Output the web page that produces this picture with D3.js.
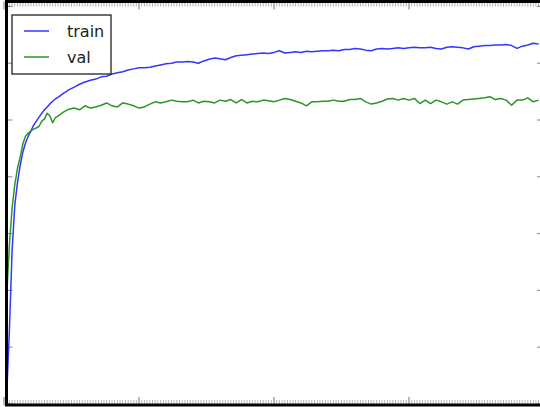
<!DOCTYPE html>
<html>
<head>
<meta charset="utf-8">
<script src="https://cdn.jsdelivr.net/npm/d3@7"></script>
<style>
  body { margin: 0; background: #fff; }
  svg { display: block; font-family: "DejaVu Sans", sans-serif; }
</style>
</head>
<body>
<div id="chart"></div>
<script>
// epochs (dense at the start, every 2 later on)
var epochs = [1, 2, 3, 4, 5, 6, 7, 8, 9, 10, 11, 12, 13, 14, 15, 16, 17, 18, 19, 20,
  22, 24, 26, 28, 30, 32, 34, 36, 38, 40, 42, 44, 46, 48, 50, 52, 54, 56, 58, 60, 62, 64,
  66, 68, 70, 72, 74, 76, 78, 80, 82, 84, 86, 88, 90, 92, 94, 96, 98, 100,
  102, 104, 106, 108, 110, 112, 114, 116, 118, 120, 122, 124, 126, 128, 130, 132, 134, 136, 138, 140,
  142, 144, 146, 148, 150, 152, 154, 156, 158, 160, 162, 164, 166, 168, 170, 172, 174, 176, 178, 180,
  182, 184, 186, 188, 190, 192, 194, 196, 198];

var train = [0.016, 0.13, 0.27, 0.35, 0.39, 0.42, 0.444, 0.46, 0.472, 0.481, 0.491, 0.498, 0.505, 0.512, 0.518, 0.523, 0.528, 0.533, 0.537, 0.540,
  0.547, 0.553, 0.558, 0.563, 0.567, 0.570, 0.572, 0.576, 0.577, 0.581, 0.583, 0.585, 0.588, 0.590, 0.592, 0.592, 0.593, 0.595, 0.597, 0.599, 0.600, 0.602,
  0.602, 0.603, 0.602, 0.600, 0.604, 0.607, 0.609, 0.608, 0.606, 0.610, 0.613, 0.614, 0.615, 0.616, 0.617, 0.618, 0.617, 0.619,
  0.622, 0.618, 0.619, 0.620, 0.619, 0.621, 0.620, 0.621, 0.622, 0.622, 0.623, 0.622, 0.624, 0.624, 0.626, 0.625, 0.623, 0.622, 0.625, 0.626,
  0.625, 0.626, 0.627, 0.626, 0.627, 0.628, 0.627, 0.627, 0.628, 0.626, 0.625, 0.628, 0.629, 0.628, 0.627, 0.625, 0.629, 0.630, 0.631, 0.631,
  0.632, 0.632, 0.633, 0.631, 0.626, 0.630, 0.632, 0.635, 0.634];

var val = [0.190, 0.280, 0.345, 0.386, 0.415, 0.435, 0.458, 0.472, 0.477, 0.481, 0.484, 0.486, 0.489, 0.498, 0.502, 0.512, 0.507, 0.495, 0.504, 0.507,
  0.514, 0.519, 0.521, 0.518, 0.525, 0.521, 0.523, 0.526, 0.530, 0.525, 0.523, 0.530, 0.528, 0.525, 0.521, 0.523, 0.528, 0.532, 0.530, 0.532, 0.535, 0.533,
  0.532, 0.532, 0.535, 0.530, 0.533, 0.532, 0.530, 0.535, 0.533, 0.536, 0.530, 0.536, 0.530, 0.533, 0.532, 0.535, 0.534, 0.532,
  0.535, 0.538, 0.536, 0.533, 0.530, 0.525, 0.532, 0.532, 0.533, 0.533, 0.535, 0.533, 0.533, 0.536, 0.536, 0.538, 0.532, 0.528, 0.530, 0.533,
  0.537, 0.538, 0.535, 0.538, 0.535, 0.538, 0.529, 0.535, 0.529, 0.535, 0.532, 0.528, 0.532, 0.528, 0.535, 0.536, 0.537, 0.538, 0.539, 0.541,
  0.536, 0.538, 0.535, 0.526, 0.535, 0.535, 0.539, 0.532, 0.535];

var seriesNames = ["train", "val"];
var seriesColors = ["#3535ff", "#2a962a"];

var W = 540, H = 407;
var box = { left: 6.5, right: 544, top: 1.5, bottom: 405 };

var svg = d3.select("#chart").append("svg")
  .attr("width", W)
  .attr("height", H);

var x = d3.scaleLinear().domain([0, 200]).range([4, 544]);
var y = d3.scaleLinear().domain([0, 0.7]).range([404, 6.4]);

svg.append("clipPath").attr("id", "plot")
  .append("rect")
  .attr("x", box.left).attr("y", box.top)
  .attr("width", box.right - box.left).attr("height", box.bottom - box.top);

// ticks (all pointing inward)
var ticks = svg.append("g").attr("stroke", "#000");
var minor = d3.range(0, 201, 1);
ticks.selectAll(".xb").data(minor).enter().append("line")
  .attr("x1", function (d) { return x(d) }).attr("x2", function (d) { return x(d) })
  .attr("y1", box.bottom).attr("y2", function (d) { return d % 50 == 0 ? box.bottom - 8 : box.bottom - 5 })
  .attr("stroke-width", function (d) { return d % 50 == 0 ? 0.9 : 0.6 })
  .attr("stroke-opacity", function (d) { return d % 50 == 0 ? 0.6 : 0.5 });
ticks.selectAll(".xt").data(minor).enter().append("line")
  .attr("x1", function (d) { return x(d) }).attr("x2", function (d) { return x(d) })
  .attr("y1", box.top).attr("y2", function (d) { return d % 50 == 0 ? box.top + 8 : box.top + 5 })
  .attr("stroke-width", function (d) { return d % 50 == 0 ? 0.9 : 0.6 })
  .attr("stroke-opacity", function (d) { return d % 50 == 0 ? 0.6 : 0.5 });

var yt = d3.range(0, 0.71, 0.1);
ticks.selectAll(".yl").data(yt).enter().append("line")
  .attr("x1", box.left).attr("x2", box.left + 6)
  .attr("y1", function (d) { return y(d) }).attr("y2", function (d) { return y(d) })
  .attr("stroke-width", 0.8).attr("stroke-opacity", 0.6);
ticks.selectAll(".yr").data(yt).enter().append("line")
  .attr("x1", box.right - 7).attr("x2", box.right)
  .attr("y1", function (d) { return y(d) }).attr("y2", function (d) { return y(d) })
  .attr("stroke-width", 0.8).attr("stroke-opacity", 0.6);

// lines
var line = d3.line()
  .x(function (d) { return x(d.e) })
  .y(function (d) { return y(d.v) });

[train, val].forEach(function (vals, i) {
  var pts = epochs.map(function (e, j) { return { e: e, v: vals[j] } });
  svg.append("path")
    .attr("clip-path", "url(#plot)")
    .attr("d", line(pts))
    .attr("fill", "none")
    .attr("stroke", seriesColors[i])
    .attr("stroke-width", 1.5)
    .attr("stroke-linejoin", "round");
});

// frame
svg.append("rect")
  .attr("x", box.left).attr("y", box.top)
  .attr("width", box.right - box.left).attr("height", box.bottom - box.top)
  .attr("fill", "none")
  .attr("stroke", "#000")
  .attr("stroke-width", 3);

// legend
var lg = svg.append("g");
lg.append("rect")
  .attr("x", 12).attr("y", 15)
  .attr("width", 99).attr("height", 59)
  .attr("fill", "#fff")
  .attr("stroke", "#222")
  .attr("stroke-width", 1.3);
seriesNames.forEach(function (name, i) {
  var ly = 31 + i * 26;
  lg.append("line")
    .attr("x1", 24).attr("x2", 49)
    .attr("y1", ly).attr("y2", ly)
    .attr("stroke", seriesColors[i])
    .attr("stroke-width", 1.5);
  lg.append("text")
    .attr("x", 67).attr("y", ly + 5.8)
    .style("font-size", "16px")
    .style("fill", "#222")
    .text(name);
});
</script>
</body>
</html>
